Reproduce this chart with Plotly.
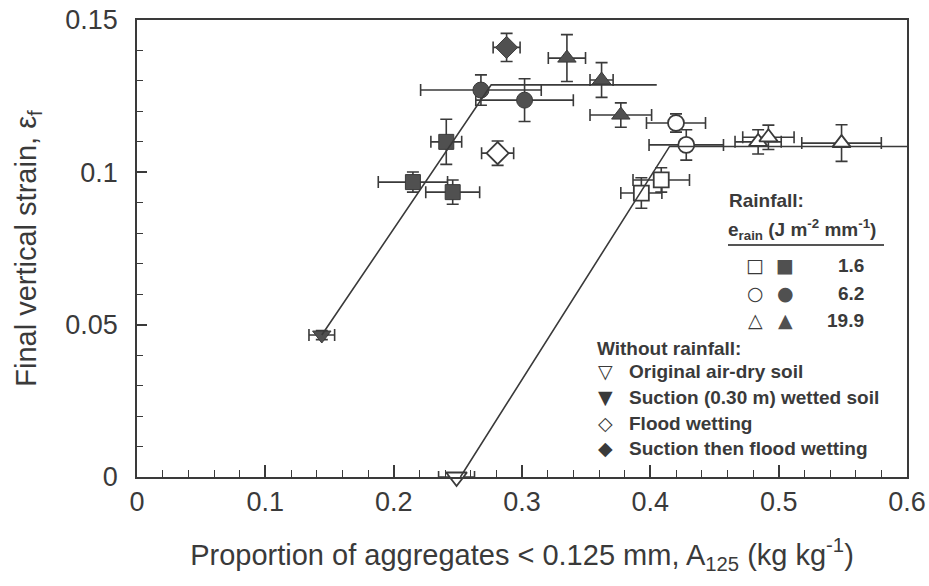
import plotly.graph_objects as go

# ---------------- data ----------------
# Rainfall e_rain = 1.6 (squares)
sq_open_x = [0.393, 0.4085]
sq_open_y = [0.0932, 0.0975]
sq_open_ex = [0.016, 0.022]
sq_open_ey = [0.005, 0.004]
sq_fill_x = [0.241, 0.215, 0.246]
sq_fill_y = [0.110, 0.0968, 0.0935]
sq_fill_ex = [0.012, 0.027, 0.021]
sq_fill_ey = [0.0074, 0.0033, 0.004]

# Rainfall e_rain = 6.2 (circles)
ci_open_x = [0.420, 0.428]
ci_open_y = [0.1162, 0.109]
ci_open_ex = [0.023, 0.029]
ci_open_ey = [0.003, 0.005]
ci_fill_x = [0.268, 0.302]
ci_fill_y = [0.127, 0.1237]
ci_fill_ex = [0.047, 0.038]
ci_fill_ey = [0.005, 0.007]

# Rainfall e_rain = 19.9 (triangles)
tr_open_x = [0.484, 0.492, 0.549]
tr_open_y = [0.110, 0.1115, 0.1096]
tr_open_ex = [0.018, 0.020, 0.031]
tr_open_ey = [0.004, 0.004, 0.006]
tr_fill_x = [0.335, 0.362, 0.377]
tr_fill_y = [0.1375, 0.1303, 0.1188]
tr_fill_ex = [0.0145, 0.009, 0.024]
tr_fill_ey = [0.0077, 0.0057, 0.004]

# Without rainfall
airdry_x = [0.249]
airdry_y = [0.0]
airdry_ex = [0.014]
airdry_ey = [0.0]
suction_x = [0.144]
suction_y = [0.0466]
suction_ex = [0.010]
suction_ey = [0.0015]
flood_x = [0.281]
flood_y = [0.1063]
flood_ex = [0.0125]
flood_ey = [0.004]
suctionflood_x = [0.288]
suctionflood_y = [0.141]
suctionflood_ex = [0.0105]
suctionflood_ey = [0.0046]

# Fitted bilinear lines
fit1_x = [0.144, 0.276, 0.405]
fit1_y = [0.0466, 0.1287, 0.1287]
fit2_x = [0.252, 0.415, 0.6]
fit2_y = [0.0, 0.1085, 0.1085]

# Axis ticks
x_tickvals = [0, 0.1, 0.2, 0.3, 0.4, 0.5, 0.6]
x_ticktext = ["0", "0.1", "0.2", "0.3", "0.4", "0.5", "0.6"]
y_tickvals = [0, 0.05, 0.1, 0.15]
y_ticktext = ["0", "0.05", "0.1", "0.15"]

x_title = "Proportion of aggregates &lt; 0.125 mm, A<sub>125</sub> (kg kg<sup>-1</sup>)"
y_title = "Final vertical strain, \u03b5<sub>f</sub>"

# Legend texts
rain_header = ["Rainfall:", "e<sub>rain</sub> (J m<sup>-2</sup> mm<sup>-1</sup>)"]
rain_levels = ["1.6", "6.2", "19.9"]
rain_open_symbols = ["\u25a1", "\u25cb", "\u25b3"]
rain_fill_symbols = ["\u25a0", "\u25cf", "\u25b2"]
dry_header = "Without rainfall:"
dry_symbols = ["\u25bd", "\u25bc", "\u25c7", "\u25c6"]
dry_labels = ["Original air-dry soil", "Suction (0.30 m) wetted soil",
              "Flood wetting", "Suction then flood wetting"]

# ---------------- styling ----------------
INK = "#3a3a3a"
FILL = "#505050"
W, H = 929, 586
L, R, T, B = 137, 907, 20, 477  # plot area in pixels


def px(xpix):
    return (xpix - L) / (R - L)


def py(ypix):
    return (B - ypix) / (B - T)


fig = go.Figure()


def add_series(x, y, ex, ey, symbol, filled, size):
    fig.add_trace(go.Scatter(
        x=x, y=y, mode="markers", cliponaxis=False, showlegend=False,
        marker=dict(symbol=symbol, size=size,
                    color=FILL if filled else "white",
                    line=dict(color=INK, width=1.0 if filled else 1.8)),
        error_x=dict(type="data", array=ex, color=INK, thickness=1.6, width=6),
        error_y=dict(type="data", array=ey, color=INK, thickness=1.6, width=6),
    ))


add_series(sq_open_x, sq_open_y, sq_open_ex, sq_open_ey, "square", False, 15)
add_series(sq_fill_x, sq_fill_y, sq_fill_ex, sq_fill_ey, "square", True, 15)
add_series(ci_open_x, ci_open_y, ci_open_ex, ci_open_ey, "circle", False, 16)
add_series(ci_fill_x, ci_fill_y, ci_fill_ex, ci_fill_ey, "circle", True, 16)
add_series(tr_open_x, tr_open_y, tr_open_ex, tr_open_ey, "triangle-up", False, 16)
add_series(tr_fill_x, tr_fill_y, tr_fill_ex, tr_fill_ey, "triangle-up", True, 16)
add_series(airdry_x, airdry_y, airdry_ex, airdry_ey, "triangle-down", False, 18)
add_series(suction_x, suction_y, suction_ex, suction_ey, "triangle-down", True, 16)
add_series(flood_x, flood_y, flood_ex, flood_ey, "diamond", False, 17)
add_series(suctionflood_x, suctionflood_y, suctionflood_ex, suctionflood_ey, "diamond", True, 17)

for fx, fy in [(fit1_x, fit1_y), (fit2_x, fit2_y)]:
    fig.add_trace(go.Scatter(x=fx, y=fy, mode="lines", cliponaxis=False,
                             showlegend=False, line=dict(color=INK, width=1.6)))

# ---------------- legend drawn as text ----------------
LEG_FONT = dict(family="Liberation Sans", size=19, color=INK)
SYM_FONT = dict(family="DejaVu Sans", size=19, color=INK)
ann = []
ann.append(dict(x=px(727), y=py(200), text="<b>" + rain_header[0] + "</b>",
                xanchor="left", yanchor="middle", font=LEG_FONT))
ann.append(dict(x=px(726), y=py(229), text="<b>" + rain_header[1] + "</b>",
                xanchor="left", yanchor="middle", font=LEG_FONT))
row_y = [265, 293, 320]
for i in range(3):
    ann.append(dict(x=px(755), y=py(row_y[i]), text=rain_open_symbols[i],
                    xanchor="center", yanchor="middle", font=SYM_FONT))
    ann.append(dict(x=px(785), y=py(row_y[i]), text=rain_fill_symbols[i],
                    xanchor="center", yanchor="middle",
                    font=dict(family="DejaVu Sans", size=19, color=FILL)))
    ann.append(dict(x=px(866), y=py(row_y[i]), text="<b>" + rain_levels[i] + "</b>",
                    xanchor="right", yanchor="middle", font=LEG_FONT))
ann.append(dict(x=px(595), y=py(348), text="<b>" + dry_header + "</b>",
                xanchor="left", yanchor="middle", font=LEG_FONT))
dry_y = [371, 397, 423, 448]
for i in range(4):
    ann.append(dict(x=px(605), y=py(dry_y[i]), text=dry_symbols[i],
                    xanchor="center", yanchor="middle", font=SYM_FONT))
    ann.append(dict(x=px(627), y=py(dry_y[i]), text="<b>" + dry_labels[i] + "</b>",
                    xanchor="left", yanchor="middle", font=LEG_FONT))
for a in ann:
    a.update(xref="paper", yref="paper", showarrow=False)

fig.update_layout(
    width=W, height=H,
    margin=dict(l=L, r=W - R, t=T, b=H - B, autoexpand=False),
    paper_bgcolor="white", plot_bgcolor="white",
    annotations=ann,
    shapes=[dict(type="line", xref="paper", yref="paper",
                 x0=px(728), x1=px(884), y0=py(245), y1=py(245),
                 line=dict(color="#555555", width=2))],
    xaxis=dict(range=[0, 0.6], tickvals=x_tickvals, ticktext=x_ticktext,
               automargin=False,
               ticks="inside", ticklen=12, tickwidth=1.5, tickcolor=INK,
               minor=dict(dtick=0.02, ticks="inside", ticklen=7, tickwidth=1.3, tickcolor=INK),
               showgrid=False, zeroline=False, showline=True, mirror=True,
               linecolor=INK, linewidth=1.8,
               tickfont=dict(family="Liberation Sans", size=27, color=INK),
               ticklabelstandoff=0,
               title=dict(text=x_title, standoff=28,
                          font=dict(family="Liberation Sans", size=29, color=INK))),
    yaxis=dict(range=[0, 0.15], tickvals=y_tickvals, ticktext=y_ticktext,
               automargin=False,
               ticks="inside", ticklen=10, tickwidth=1.5, tickcolor=INK,
               minor=dict(dtick=0.01, ticks="inside", ticklen=6, tickwidth=1.3, tickcolor=INK),
               showgrid=False, zeroline=False, showline=True, mirror=True,
               linecolor=INK, linewidth=1.8,
               tickfont=dict(family="Liberation Sans", size=27, color=INK),
               ticklabelstandoff=12,
               title=dict(text=y_title, standoff=20,
                          font=dict(family="Liberation Sans", size=29, color=INK))),
)

fig.write_html("out.html", config={"displayModeBar": False},
               post_script="document.body.style.margin='0';document.body.style.padding='0';")
